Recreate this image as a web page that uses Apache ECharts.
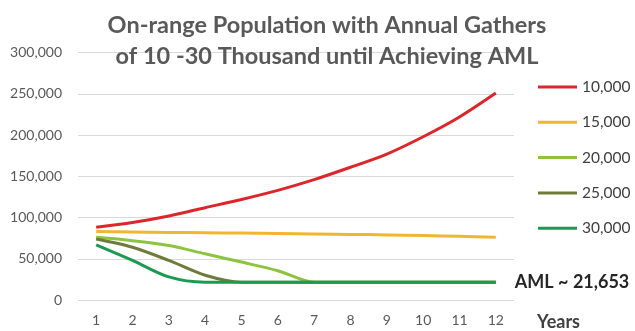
<!DOCTYPE html>
<html>
<head>
<meta charset="utf-8">
<script src="https://cdn.jsdelivr.net/npm/echarts@6/dist/echarts.min.js"></script>
<style>
html,body{margin:0;padding:0;background:#fff;}
#chart{width:635px;height:331px;}
</style>
</head>
<body>
<div id="chart"></div>
<script>
var years = ['1','2','3','4','5','6','7','8','9','10','11','12'];
var seriesNames = ['10,000','15,000','20,000','25,000','30,000'];
var gather10k = [88200, 94000, 102000, 112000, 122000, 133000, 146000, 161000, 177000, 198000, 222000, 251000];
var gather15k = [83000, 82500, 82000, 81600, 81200, 80700, 80200, 79600, 79000, 78200, 77200, 76000];
var gather20k = [76000, 72000, 66000, 56000, 46000, 35500, 21653, 21653, 21653, 21653, 21653, 21653];
var gather25k = [74000, 64000, 48000, 30000, 21653, 21653, 21653, 21653, 21653, 21653, 21653, 21653];
var gather30k = [67000, 48000, 28000, 21653, 21653, 21653, 21653, 21653, 21653, 21653, 21653, 21653];
var amlLabel = 'AML ~ 21,653';
var titleText = 'On-range Population with Annual Gathers\nof 10 -30 Thousand until Achieving AML';

var colors = ['#dc262b', '#f2b531', '#8cc43f', '#6e7b3a', '#1c9a52'];
var allData = [gather10k, gather15k, gather20k, gather25k, gather30k];
var FONT = 'Lato, "Open Sans", sans-serif';

var chart = echarts.init(document.getElementById('chart'));
var series = allData.map(function (d, i) {
  var s = {
    name: seriesNames[i],
    type: 'line',
    data: d,
    smooth: 0.3,
    symbol: 'none',
    lineStyle: { width: 3, color: colors[i] },
    itemStyle: { color: colors[i] },
    z: 2 + i
  };
  if (i === 4) {
    s.endLabel = {
      show: true,
      formatter: amlLabel,
      distance: 19,
      fontFamily: FONT,
      fontWeight: 'bold',
      fontSize: 18,
      color: '#262626'
    };
  }
  return s;
});

chart.setOption({
  animation: false,
  backgroundColor: '#ffffff',
  title: {
    text: titleText,
    left: 322,
    top: 5,
    textAlign: 'center',
    textStyle: {
      fontFamily: FONT,
      fontWeight: 'bold',
      fontSize: 23.5,
      lineHeight: 31,
      color: '#595959'
    }
  },
  legend: {
    orient: 'vertical',
    left: 538,
    top: 77,
    padding: 0,
    itemWidth: 39,
    itemHeight: 3,
    itemGap: 15.3,
    icon: 'rect',
    data: seriesNames,
    textStyle: {
      fontFamily: FONT,
      fontSize: 15.5,
      lineHeight: 20,
      color: '#404040'
    }
  },
  grid: { left: 78, right: 121, top: 52.7, bottom: 29.3, containLabel: false },
  xAxis: {
    type: 'category',
    data: years,
    boundaryGap: true,
    axisLine: { show: false },
    axisTick: { show: false },
    axisLabel: { fontFamily: FONT, fontSize: 14, color: '#595959', margin: 13 },
    name: 'Years',
    nameLocation: 'end',
    nameGap: 23,
    nameTextStyle: {
      fontFamily: FONT, fontWeight: 'bold', fontSize: 18, color: '#404040',
      verticalAlign: 'top', align: 'left', padding: [13, 0, 0, 0]
    }
  },
  yAxis: {
    type: 'value',
    min: 0,
    max: 300000,
    interval: 50000,
    axisLine: { show: false },
    axisTick: { show: false },
    splitLine: { lineStyle: { color: '#d9d9d9', width: 1 } },
    axisLabel: {
      fontFamily: FONT, fontSize: 14, color: '#595959', margin: 16,
      formatter: function (v) { return v.toLocaleString('en-US'); }
    }
  },
  series: series
});
</script>
</body>
</html>
